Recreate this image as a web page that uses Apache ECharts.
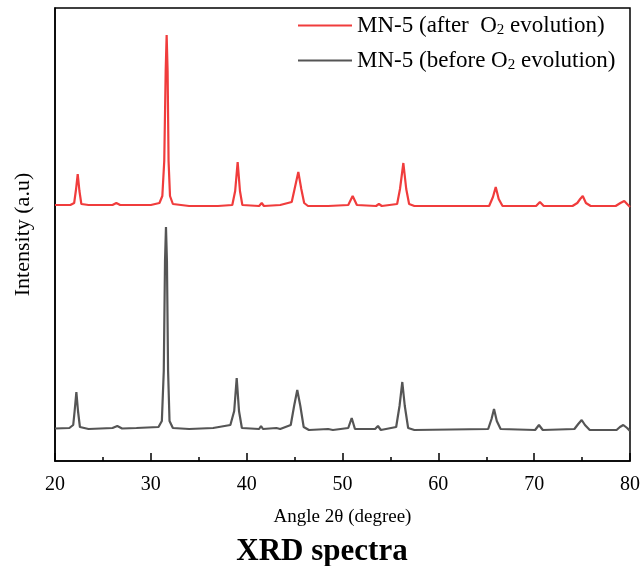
<!DOCTYPE html>
<html>
<head>
<meta charset="utf-8">
<script src="https://cdn.jsdelivr.net/npm/echarts@6/dist/echarts.min.js"></script>
<style>html,body{margin:0;padding:0;background:#fff}#c{width:644px;height:566px}</style>
</head>
<body>
<div id="c"></div>
<script>
// X ticks (degrees 2θ)
var xTicks = [20, 30, 40, 50, 60, 70, 80];
var seriesNames = ['MN-5 (after  O2 evolution)', 'MN-5 (before O2 evolution)'];
// Points: [2θ, intensity (a.u., offset stacked)]
var afterO2 = [
  [20.0,256],[21.6,256],[22.0,258],[22.2,272],[22.37,287],[22.55,270],[22.75,257],[23.5,256],
  [26.0,256],[26.4,258],[26.8,256],[30.0,256],[30.9,258],[31.2,265],[31.4,300],[31.55,390],
  [31.65,426],[31.75,390],[31.85,300],[32.0,265],[32.3,257],[34.0,255],[37.0,255],[38.5,256],
  [38.8,270],[39.06,299],[39.3,270],[39.55,256],[41.3,255],[41.57,258],[41.8,255],[43.5,256],
  [44.7,259],[45.0,272],[45.39,289],[45.7,272],[46.0,258],[46.4,255],[48.5,255],[50.6,256],
  [51.06,265],[51.5,256],[53.5,255],[53.8,257],[54.1,255],[55.7,257],[56.0,272],[56.35,298],
  [56.65,272],[56.95,257],[57.5,255],[65.3,255],[65.7,264],[65.99,274],[66.3,262],[66.7,255],
  [70.2,255],[70.6,259],[71.0,255],[74.0,255],[74.5,258],[74.8,262],[75.07,265],[75.4,258],
  [75.9,255],[78.5,255],[79.0,258],[79.4,260],[79.8,256],[80.0,254]
];
var beforeO2 = [
  [20.0,32.5],[21.5,33],[21.9,36],[22.05,50],[22.23,69],[22.4,50],[22.6,34],[23.5,32],
  [26.0,33],[26.5,35],[27.0,32.5],[28.5,33],[30.8,34],[31.15,40],[31.35,90],[31.48,200],
  [31.58,234],[31.68,200],[31.8,90],[31.95,40],[32.3,33],[34.0,32],[36.5,33],[38.3,36],
  [38.7,50],[38.96,83],[39.2,50],[39.5,33],[41.3,32],[41.5,35],[41.7,32],[43.1,33],
  [43.3,35],[43.5,32],[44.6,36],[44.95,55],[45.28,71],[45.6,55],[45.95,34],[46.5,31],
  [48.5,32],[48.7,33],[49.0,31],[50.6,33],[50.96,43],[51.3,32],[53.4,32],[53.7,35],
  [54.0,31],[55.6,34],[55.95,55],[56.24,79],[56.5,55],[56.85,33],[57.5,31],[65.2,32],
  [65.55,42],[65.81,52],[66.1,40],[66.5,32],[70.1,31],[70.5,36],[70.9,31],[74.2,32],
  [74.6,37],[74.96,41],[75.3,36],[75.8,31],[78.6,31],[78.95,34],[79.3,36],[79.7,33],[80.0,30]
];

var serif = '"Liberation Serif", "Times New Roman", serif';
var chart = echarts.init(document.getElementById('c'));
chart.setOption({
  animation: false,
  backgroundColor: '#fff',
  title: {
    text: 'XRD spectra', left: 'center', top: 531,
    textStyle: {fontFamily: serif, fontWeight: 'bold', fontSize: 31, color: '#000'}
  },
  legend: {
    orient: 'vertical', left: 293, top: 9, itemGap: 11,
    itemWidth: 54, itemHeight: 2, icon: 'rect',
    data: seriesNames,
    formatter: function (n) {
      return n === seriesNames[0]
        ? '{n|MN-5 (after  O}{s|2}{n| evolution)}'
        : '{n|MN-5 (before O}{s|2}{n| evolution)}';
    },
    textStyle: {
      fontFamily: serif, fontSize: 23, color: '#000',
      rich: {
        n: {fontFamily: serif, fontSize: 23, color: '#000'},
        s: {fontFamily: serif, fontSize: 15, color: '#000', verticalAlign: 'bottom', padding: [10, 0, 0, 0]}
      }
    }
  },
  grid: {left: 55, right: 14, top: 8, bottom: 105, show: true, borderColor: '#000', borderWidth: 1.5},
  xAxis: {
    type: 'value', min: xTicks[0], max: xTicks[xTicks.length - 1], interval: 10,
    name: 'Angle 2θ (degree)', nameLocation: 'middle', nameGap: 47,
    nameTextStyle: {fontFamily: serif, fontSize: 19, color: '#000'},
    axisLine: {show: true, lineStyle: {color: '#000', width: 1.5}},
    axisTick: {show: true, inside: true, length: 8, lineStyle: {color: '#000', width: 1.5}},
    minorTick: {show: true, splitNumber: 2, length: 4, lineStyle: {color: '#000', width: 1.5}},
    axisLabel: {fontFamily: serif, fontSize: 20, color: '#000', margin: 14},
    splitLine: {show: false}
  },
  yAxis: {
    type: 'value', min: 0, max: 453,
    name: 'Intensity (a.u)', nameLocation: 'middle', nameGap: 21,
    nameTextStyle: {fontFamily: serif, fontSize: 22, color: '#000'},
    axisLine: {show: true, lineStyle: {color: '#000', width: 1.5}},
    axisTick: {show: false}, axisLabel: {show: false}, splitLine: {show: false}
  },
  series: [
    {name: seriesNames[0], type: 'line', data: afterO2, symbol: 'none',
     lineStyle: {color: '#f03c3c', width: 2.2}, itemStyle: {color: '#f03c3c'}},
    {name: seriesNames[1], type: 'line', data: beforeO2, symbol: 'none',
     lineStyle: {color: '#555555', width: 2.2}, itemStyle: {color: '#555555'}}
  ]
});
</script>
</body>
</html>
